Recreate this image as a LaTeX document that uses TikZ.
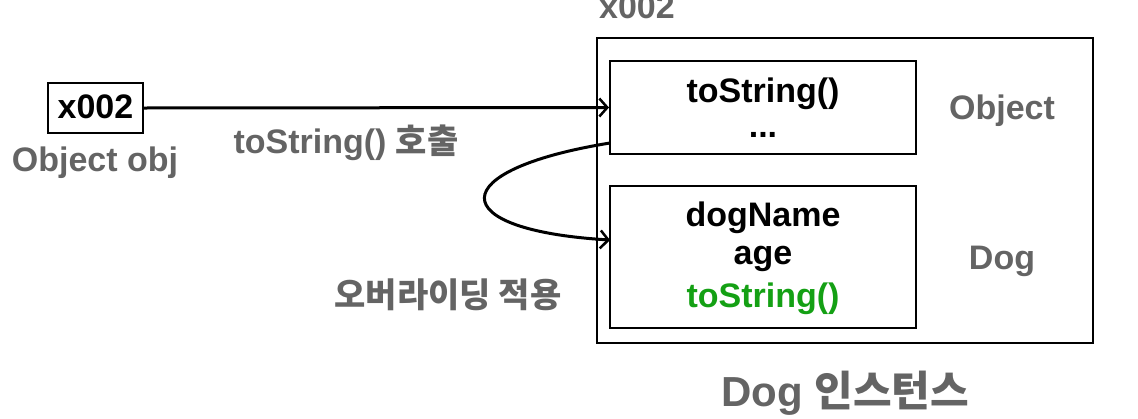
\documentclass[tikz,border=0pt]{standalone}
\usepackage{fontspec}
\setmainfont{Liberation Sans}
\newfontfamily\kr{Noto Sans CJK KR Bold}
\usetikzlibrary{arrows.meta,positioning}
\definecolor{lblgray}{RGB}{100,100,100}
\definecolor{mgreen}{RGB}{20,160,20}
\begin{document}
\begin{tikzpicture}[x=1pt,y=-1pt,
	box/.style={draw,line width=2pt,inner sep=0pt},
	txt/.style={font=\fontsize{34}{40}\selectfont\bfseries,inner sep=0pt},
	lbl/.style={txt,text=lblgray},
	arr/.style={line width=3pt,-{Straight Barb[length=8pt,width=18pt,line width=2.5pt]}}]
	\useasboundingbox (0,0) rectangle (1138,418);
	% reference variable
	\node[box,minimum width=95pt,minimum height=50pt] (ref) at (95.5,108) {};
	\node[txt] (refval) at (95.5,107) {x002};
	\node[lbl] (refname) at (95,163) {Object obj};
	% instance
	\node[box,minimum width=496pt,minimum height=305pt] (inst) at (845,190.5) {};
	\node[lbl] (instaddr) at (637,7) {x002};
	\node[box,minimum width=306pt,minimum height=93pt] (obj) at (763,107.5) {};
	\node[box,minimum width=306pt,minimum height=142pt] (dog) at (763,257) {};
	\node[txt] (objm) at (763,94) {toString()};
	\node[txt] (objd) at (763,135) {...};
	\node[txt] (dogn) at (763,218) {dogName};
	\node[txt] (doga) at (763,259) {age};
	\node[txt,text=mgreen] (dogm) at (763,299) {toString()};
	\node[lbl] (objlbl) at (1002,111) {Object};
	\node[lbl] (doglbl) at (1002,261) {Dog};
	\node[lbl,font=\fontsize{42}{48}\selectfont\bfseries] (instlbl) at (845,393) {Dog {\kr 인스턴스}};
	% calls
	\draw[arr] (ref.east) -- (obj.west);
	\node[lbl] (calllbl) at (346,143) {toString() {\kr 호출}};
	\coordinate (cs) at (610,143);
	\coordinate (ce) at (610,240);
	\draw[arr] (cs) .. controls (443,170) and (443,230) .. (ce);
	\node[lbl] (ovrlbl) at (448,295) {\kr 오버라이딩 적용};
\end{tikzpicture}
\end{document}
